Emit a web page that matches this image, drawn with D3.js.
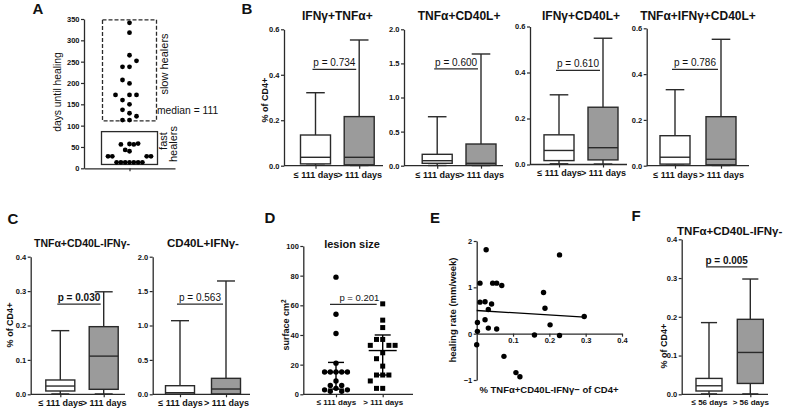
<!DOCTYPE html>
<html><head><meta charset="utf-8">
<script src="https://cdn.jsdelivr.net/npm/d3@7"></script>
<style>
body{margin:0;background:#fff;}
svg{display:block;}
</style></head><body>
<svg id="chart" width="800" height="411"></svg>
<script>
// ---------------- DATA ----------------
// Panel A: days until healing
const slowDays = [341,318,265,252,238,238,207,199,172,172,172,160,150,137,129,122,113,113];
const fastDays = [58,56,56,57,43,40,28,28,28,28,14,14,14,14,14,14,14];
const medianDays = 111;
const slowBox = [111, 348];
const fastBox = [9, 86];
const aTicks = [0,50,100,150,200,250,300,350];

// Panel B: box plots (white = ≤111 days, grey = >111 days)
const groups111 = ["≤ 111 days", "> 111 days"];
const bTitles = ["IFNγ+TNFα+", "TNFα+CD40L+", "IFNγ+CD40L+", "TNFα+IFNγ+CD40L+"];
const bMin = [[0.002,0.001],[0.003,0.002],[0.003,0.002],[0.002,0.001]];
const bQ1  = [[0.008,0.004],[0.035,0.006],[0.017,0.020],[0.007,0.004]];
const bMed = [[0.037,0.037],[0.073,0.035],[0.061,0.073],[0.037,0.028]];
const bQ3  = [[0.135,0.216],[0.167,0.318],[0.129,0.249],[0.131,0.214]];
const bMax = [[0.321,0.553],[0.718,1.638],[0.303,0.549],[0.332,0.552]];
const bPText = ["p = 0.734","p = 0.600","p = 0.610","p = 0.786"];
const bPY = [0.424, 1.42, 0.409, 0.421];
const bTicks = [[0,0.2,0.4,0.6],[0,0.5,1.0,1.5,2.0],[0,0.2,0.4,0.6],[0,0.2,0.4,0.6]];

// Panel C
const cTitles = ["TNFα+CD40L-IFNγ-", "CD40L+IFNγ-"];
const cMin = [[0.001,0.001],[0.002,0.002]];
const cQ1  = [[0.0096,0.0145],[0.004,0.006]];
const cMed = [[0.024,0.111],[0.023,0.077]];
const cQ3  = [[0.0416,0.1966],[0.125,0.232]];
const cMax = [[0.185,0.298],[1.07,1.647]];
const cPText = ["p = 0.030","p = 0.563"];
const cPY = [0.262, 1.31];
const cTicks = [[0,0.1,0.2,0.3,0.4],[0,0.5,1.0,1.5,2.0]];

// Panel D: lesion size
const lesionFast = [79,54,41,21,15,15,15,15,15,9,6,6,4,3,3,2,2];
const lesionSlow = [61,50,45,37,37,33,33,33,28,24,19,13,13,13,9,4,4];
const lesionMedian = [15, 29.5];
const lesionQ1 = [3.5, 13];
const lesionQ3 = [21.5, 40];
const dTicks = [0,20,40,60,80,100];
const dPY = 60.7;

// Panel E: correlation
const eX = [0.026,0.009,0.009,0.023,0.044,0.055,0.069,0.041,0.032,0.002,0.023,0.032,0.055,0.002,0.0,0.075,0.108,0.119,0.228,0.184,0.188,0.296,0.202,0.159,0.228];
const eY = [1.81,1.09,0.68,0.69,1.09,1.09,1.04,0.64,0.52,0.24,0.30,0.12,0.10,0.05,-0.24,-0.49,-0.84,-0.93,1.70,0.89,0.55,0.37,0.19,-0.03,-0.04];
const fitX = [0, 0.297];
const fitY = [0.50, 0.355];
const eXTicks = [0.1,0.2,0.3,0.4];
const eYTicks = [-1,0,1,2];

// Panel F
const groups56 = ["≤ 56 days", "> 56 days"];
const fMin = [0.001,0.001];
const fQ1  = [0.0085,0.028];
const fMed = [0.022,0.108];
const fQ3  = [0.041,0.1935];
const fMax = [0.185,0.2975];
const fPText = "p = 0.005";
const fPY = 0.329;

// ---------------- DRAWING ----------------
const FONT = '"Liberation Sans", Arial, Helvetica, sans-serif';
const AX = '#2a2a2a';
const GREY = '#9b9b9b';
const svg = d3.select("#chart").attr("font-family", FONT);

function styleAxis(a, fs){
  a.select(".domain").attr("stroke", AX).attr("stroke-width", 1.3);
  a.selectAll(".tick line").attr("stroke", AX).attr("stroke-width", 1.2);
  a.selectAll(".tick text").attr("fill", "#111").attr("font-size", fs || 7.5)
    .attr("font-weight", "bold").attr("font-family", FONT);
}
function yAxis(scale, x, ticks, fmt){
  const a = svg.append("g").attr("transform", `translate(${x},0)`)
    .call(d3.axisLeft(scale).tickValues(ticks).tickFormat(fmt).tickSize(3).tickSizeOuter(0).tickPadding(1.5));
  styleAxis(a);
  return a;
}
function text(x, y, s, o){
  o = o || {};
  const t = svg.append("text").attr("x", x).attr("y", y).text(s)
    .attr("font-size", o.size || 9).attr("font-weight", o.bold ? "bold" : "normal")
    .attr("text-anchor", o.anchor || "middle").attr("fill", o.fill || "#111");
  if (o.rot) t.attr("transform", `rotate(-90,${x},${y})`);
  return t;
}
function panelLetter(x, y, s){ text(x, y, s, {size: 15, bold: true}); }

function drawBox(cx, bw, st, y, fill){
  const g = svg.append("g").attr("stroke", AX).attr("stroke-width", 1.4);
  const cap = bw * 0.62;
  g.append("line").attr("x1", cx).attr("x2", cx).attr("y1", y(st.max)).attr("y2", y(st.q3));
  g.append("line").attr("x1", cx).attr("x2", cx).attr("y1", y(st.q1)).attr("y2", y(st.min));
  g.append("line").attr("x1", cx-cap/2).attr("x2", cx+cap/2).attr("y1", y(st.max)).attr("y2", y(st.max));
  g.append("line").attr("x1", cx-cap/2).attr("x2", cx+cap/2).attr("y1", y(st.min)).attr("y2", y(st.min));
  g.append("rect").attr("x", cx-bw/2).attr("y", y(st.q3)).attr("width", bw)
    .attr("height", Math.max(0.5, y(st.q1)-y(st.q3))).attr("fill", fill);
  g.append("line").attr("x1", cx-bw/2).attr("x2", cx+bw/2).attr("y1", y(st.med)).attr("y2", y(st.med));
}

function boxPanel(o){
  const y = d3.scaleLinear().domain([0, o.ymax]).range([o.bot, o.top]);
  const x = d3.scalePoint().domain(o.groups).range(o.centers);
  yAxis(y, o.ax, o.ticks, d3.format(o.fmt));
  svg.append("line").attr("x1", o.ax).attr("x2", o.end).attr("y1", o.bot).attr("y2", o.bot)
    .attr("stroke", AX).attr("stroke-width", 1.3);
  const xa = svg.append("g").attr("transform", `translate(0,${o.bot})`)
    .call(d3.axisBottom(x).tickSize(3).tickSizeOuter(0).tickPadding(2.5));
  xa.select(".domain").remove();
  styleAxis(xa, o.xfs || 9);
  o.groups.forEach((gname, i) => {
    drawBox(x(gname), o.bw, {min:o.min[i], q1:o.q1[i], med:o.med[i], q3:o.q3[i], max:o.max[i]}, y, i === 0 ? "#fff" : GREY);
  });
  // p-value bar
  const px0 = x(o.groups[0]) - 3, px1 = x(o.groups[1]) - 3;
  svg.append("line").attr("x1", px0).attr("x2", px1).attr("y1", y(o.pY)).attr("y2", y(o.pY))
    .attr("stroke", AX).attr("stroke-width", 1.3);
  text((px0+px1)/2, y(o.pY) - 3, o.pText, {size: 10, bold: o.pBold});
  text((o.centers[0]+o.centers[1])/2, o.titleY, o.title, {size: o.tfs || 12, bold: true});
  if (o.ylabel) text(o.ylabelX, o.ylabelY, o.ylabel, {size: 9, bold: true, rot: true});
}

// ---------- Panel A ----------
(function(){
  const y = d3.scaleLinear().domain([0, 350]).range([168.3, 19]);
  const x = d3.scaleLinear().domain([-1, 1]).range([84, 175]);
  yAxis(y, 84, aTicks, d3.format("d"));
  const xa = svg.append("g").attr("transform", `translate(0,${y(0)})`)
    .call(d3.axisBottom(x).tickValues([0]).tickFormat("").tickSize(3).tickSizeOuter(0));
  styleAxis(xa);
  svg.append("rect").attr("x", x(0)-27).attr("width", 54).attr("y", y(slowBox[1]))
    .attr("height", y(slowBox[0]) - y(slowBox[1])).attr("fill", "none")
    .attr("stroke", AX).attr("stroke-width", 1.3).attr("stroke-dasharray", "4,2");
  svg.append("rect").attr("x", x(0)-28).attr("width", 56).attr("y", y(fastBox[1]))
    .attr("height", y(fastBox[0]) - y(fastBox[1])).attr("fill", "none")
    .attr("stroke", AX).attr("stroke-width", 1.3);
  function swarm(vals, step, dyThr){
    const order = vals.map((v,i)=>i).sort((a,b)=>vals[a]-vals[b]);
    const placed = [], off = [];
    for (const i of order){
      const py = y(vals[i]);
      for (let k = 0; k < 60; k++){
        const o = k === 0 ? 0 : (k % 2 ? -Math.ceil(k/2) : Math.ceil(k/2)) * step;
        if (placed.every(p => Math.abs(p.y-py) >= dyThr || Math.abs(p.x-o) >= step*0.99)){
          off[i] = o; placed.push({x:o, y:py}); break;
        }
      }
    }
    return off;
  }
  const offS = swarm(slowDays, 7, 6.5), offF = swarm(fastDays, 4.3, 7);
  svg.append("g").selectAll("circle").data(slowDays).join("circle")
    .attr("cx", (d,i) => x(0) + offS[i]).attr("cy", d => y(d)).attr("r", 2.4).attr("fill", "#000");
  svg.append("g").selectAll("circle").data(fastDays).join("circle")
    .attr("cx", (d,i) => x(0) + offF[i]).attr("cy", d => y(d)).attr("r", 2.4).attr("fill", "#000");
  text(157, y(medianDays) - 7, "median = " + medianDays, {size: 10.3, anchor: "start"});
  text(61, 92, "days until healing", {size: 10.3, rot: true});
  text(168, 64, "slow healers", {size: 11, rot: true});
  text(167, 141, "fast", {size: 11, rot: true});
  text(177, 144, "healers", {size: 11, rot: true});
  panelLetter(38, 14, "A");
})();

// ---------- Panel B ----------
const bGeom = [
  {ax:284, end:383, top:29.3, bot:165.7, centers:[315.5,359.2]},
  {ax:404, end:503, top:29.3, bot:165.7, centers:[437.2,481]},
  {ax:530, end:627, top:26.5, bot:164.5, centers:[559,603]},
  {ax:646.7, end:749, top:28.3, bot:165.7, centers:[675,721]}
];
bGeom.forEach((g, k) => {
  boxPanel(Object.assign({}, g, {
    groups: groups111, bw: 30, ymax: bTicks[k][bTicks[k].length-1], ticks: bTicks[k], fmt: ".1f",
    min: bMin[k], q1: bQ1[k], med: bMed[k], q3: bQ3[k], max: bMax[k],
    pY: bPY[k], pText: bPText[k], pBold: false, title: bTitles[k], titleY: 20, tfs: 12,
    ylabel: k === 0 ? "% of CD4+" : null, ylabelX: 268, ylabelY: 100
  }));
});
panelLetter(247, 14, "B");

// ---------- Panel C ----------
const cGeom = [
  {ax:30.7, end:125, top:256.7, bot:394.3, centers:[60.3,103.7], tfs:10.5},
  {ax:152.7, end:250, top:256.7, bot:394.3, centers:[180,226], tfs:11.5}
];
cGeom.forEach((g, k) => {
  boxPanel(Object.assign({}, g, {
    groups: groups111, bw: 29, ymax: cTicks[k][cTicks[k].length-1], ticks: cTicks[k], fmt: ".1f",
    min: cMin[k], q1: cQ1[k], med: cMed[k], q3: cQ3[k], max: cMax[k],
    pY: cPY[k], pText: cPText[k], pBold: k === 0, title: cTitles[k], titleY: 247,
    ylabel: k === 0 ? "% of CD4+" : null, ylabelX: 13, ylabelY: 325
  }));
});
panelLetter(13, 224, "C");

// ---------- Panel D ----------
(function(){
  const y = d3.scaleLinear().domain([0, 100]).range([394.3, 246]);
  const x = d3.scalePoint().domain(groups111).range([336, 382.7]);
  yAxis(y, 303.3, dTicks, d3.format("d"));
  svg.append("line").attr("x1", 303.3).attr("x2", 413).attr("y1", y(0)).attr("y2", y(0))
    .attr("stroke", AX).attr("stroke-width", 1.3);
  const xa = svg.append("g").attr("transform", `translate(0,${y(0)})`)
    .call(d3.axisBottom(x).tickSize(3).tickSizeOuter(0).tickPadding(2.5));
  xa.select(".domain").remove();
  styleAxis(xa, 8);
  function swarm(vals, step, dyThr){
    const order = vals.map((v,i)=>i).sort((a,b)=>vals[b]-vals[a]);
    const placed = [], off = [];
    for (const i of order){
      const py = y(vals[i]);
      for (let k = 0; k < 60; k++){
        const o = k === 0 ? 0 : (k % 2 ? -Math.ceil(k/2) : Math.ceil(k/2)) * step;
        if (placed.every(p => Math.abs(p.y-py) >= dyThr || Math.abs(p.x-o) >= step*0.99)){
          off[i] = o; placed.push({x:o, y:py}); break;
        }
      }
    }
    return off;
  }
  const oL = swarm(lesionFast, 5.7, 5.8), oR = swarm(lesionSlow, 6.2, 6);
  svg.append("g").selectAll("circle").data(lesionFast).join("circle")
    .attr("cx", (d,i) => x(groups111[0]) + oL[i]).attr("cy", d => y(d)).attr("r", 2.7).attr("fill", "#000");
  svg.append("g").selectAll("rect").data(lesionSlow).join("rect")
    .attr("x", (d,i) => x(groups111[1]) + oR[i] - 2.5).attr("y", d => y(d) - 2.5)
    .attr("width", 5).attr("height", 5).attr("fill", "#000");
  groups111.forEach((gn, i) => {
    const cx = x(gn);
    const g = svg.append("g").attr("stroke", "#000").attr("stroke-width", 1.4);
    g.append("line").attr("x1", cx).attr("x2", cx).attr("y1", y(lesionQ3[i])).attr("y2", y(lesionQ1[i]));
    g.append("line").attr("x1", cx-14).attr("x2", cx+14).attr("y1", y(lesionMedian[i])).attr("y2", y(lesionMedian[i]));
    g.append("line").attr("x1", cx-8).attr("x2", cx+8).attr("y1", y(lesionQ3[i])).attr("y2", y(lesionQ3[i]));
    g.append("line").attr("x1", cx-8).attr("x2", cx+8).attr("y1", y(lesionQ1[i])).attr("y2", y(lesionQ1[i]));
  });
  const p0 = x(groups111[0]) - 6, p1 = x(groups111[1]) - 6;
  svg.append("line").attr("x1", p0).attr("x2", p1).attr("y1", y(dPY)).attr("y2", y(dPY))
    .attr("stroke", AX).attr("stroke-width", 1.3);
  text((p0+p1)/2 + 6, y(dPY) - 3, "p = 0.201", {size: 9.5});
  text(352, 248, "lesion size", {size: 11, bold: true});
  const yl = text(289, 325, "surface cm", {size: 9, bold: true, rot: true});
  yl.append("tspan").attr("dy", -3).attr("font-size", 6.5).text("2");
  panelLetter(270, 223, "D");
})();

// ---------- Panel E ----------
(function(){
  const x = d3.scaleLinear().domain([0, 0.4]).range([476.7, 622]);
  const y = d3.scaleLinear().domain([-1, 2]).range([380, 241]);
  const xa = svg.append("g").attr("transform", `translate(0,${y(0)})`)
    .call(d3.axisBottom(x).tickValues(eXTicks).tickFormat(d3.format(".1f")).tickSize(3).tickSizeOuter(0).tickPadding(1.5));
  styleAxis(xa);
  yAxis(y, x(0), eYTicks, d3.format("d"));
  svg.append("g").selectAll("circle").data(eX).join("circle")
    .attr("cx", d => x(d)).attr("cy", (d,i) => y(eY[i])).attr("r", 2.7).attr("fill", "#000");
  svg.append("line").attr("x1", x(fitX[0])).attr("x2", x(fitX[1]))
    .attr("y1", y(fitY[0])).attr("y2", y(fitY[1])).attr("stroke", "#000").attr("stroke-width", 1.3);
  text(549, 393, "% TNFα+CD40L-IFNγ− of CD4+", {size: 9.5, bold: true});
  text(456, 310, "healing rate (mm/week)", {size: 9.5, bold: true, rot: true});
  panelLetter(435, 223, "E");
})();

// ---------- Panel F ----------
boxPanel({
  ax:681.7, end:768, top:239.3, bot:394.3, centers:[709,750.3],
  groups: groups56, bw: 26, ymax: 0.4, ticks: [0,0.1,0.2,0.3,0.4], fmt: ".1f",
  min: fMin, q1: fQ1, med: fMed, q3: fQ3, max: fMax, xfs: 8,
  pY: fPY, pText: fPText, pBold: true, title: "TNFα+CD40L-IFNγ-", titleY: 235, tfs: 11.5,
  ylabel: "% of CD4+", ylabelX: 667, ylabelY: 346
});
panelLetter(636, 221, "F");
</script></body></html>
